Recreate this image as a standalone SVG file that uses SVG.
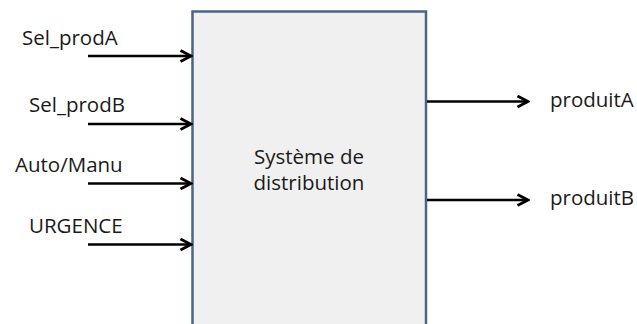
<svg xmlns="http://www.w3.org/2000/svg" width="637" height="324" viewBox="0 0 637 324">
<style>
text{font-family:"Open Sans","Noto Sans",sans-serif;font-size:20.5px;fill:#1a1a1a}
.c{stroke:#000;stroke-width:2.5;fill:none}
</style>
<defs>
<marker id="ah" viewBox="0 0 14 14" refX="12.5" refY="7" markerWidth="14" markerHeight="14" markerUnits="userSpaceOnUse" orient="auto">
<path d="M2,1.5 L12.5,7 L2,12.5" fill="none" stroke="#000" stroke-width="2.8"/>
</marker>
</defs>
<rect width="637" height="324" fill="#fff"/>
<g id="systeme">
<rect x="192.5" y="11.5" width="233.5" height="330" fill="#f0f0f0" stroke="#4a6585" stroke-width="2.5"/>
<text x="309" y="164" text-anchor="middle">Système de</text>
<text x="309" y="190" text-anchor="middle">distribution</text>
</g>
<g id="in-sel-prodA"><text x="22" y="45">Sel_prodA</text></g>
<g id="in-sel-prodB"><text x="29" y="112">Sel_prodB</text></g>
<g id="in-auto-manu"><text x="15" y="172">Auto/Manu</text></g>
<g id="in-urgence"><text x="29" y="233">URGENCE</text></g>
<g id="out-produitA"><text x="550" y="107">produitA</text></g>
<g id="out-produitB"><text x="550" y="205">produitB</text></g>
<g id="connectors">
<line class="c" x1="88" y1="56" x2="191" y2="56" marker-end="url(#ah)"/>
<line class="c" x1="88" y1="124" x2="191" y2="124" marker-end="url(#ah)"/>
<line class="c" x1="88" y1="183.5" x2="191" y2="183.5" marker-end="url(#ah)"/>
<line class="c" x1="88" y1="244.5" x2="191" y2="244.5" marker-end="url(#ah)"/>
<line class="c" x1="427" y1="101.5" x2="528" y2="101.5" marker-end="url(#ah)"/>
<line class="c" x1="427" y1="200" x2="528" y2="200" marker-end="url(#ah)"/>
</g>
</svg>
